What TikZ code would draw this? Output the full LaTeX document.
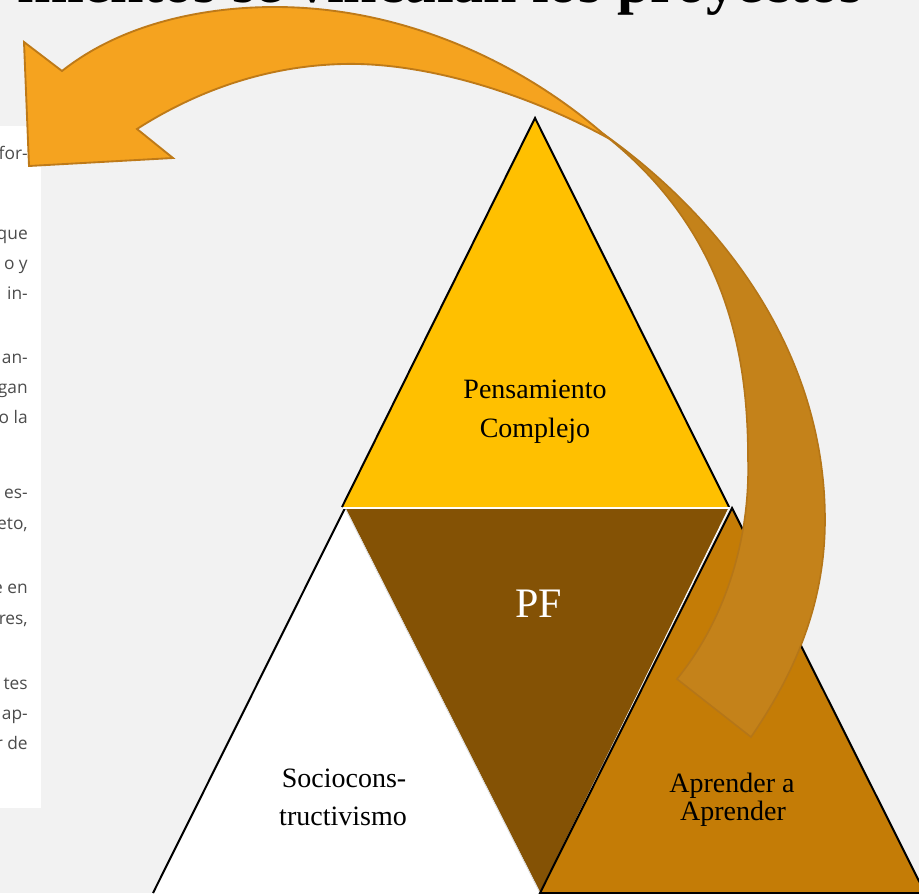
\documentclass[tikz,border=0pt]{standalone}
\usepackage{fontspec}
\setmainfont{Liberation Serif}
\newfontfamily\osans{Open Sans}
\definecolor{bgc}{HTML}{F2F2F2}
\definecolor{yellowc}{HTML}{FFC000}
\definecolor{brownc}{HTML}{845205}
\definecolor{aprc}{HTML}{C47C06}
\definecolor{arrlight}{HTML}{F5A31F}
\definecolor{arrlightdraw}{HTML}{BE7A18}
\definecolor{arrdark}{HTML}{C4821A}
\definecolor{arrdarkdraw}{HTML}{B57618}
\definecolor{bodytxt}{HTML}{4C4C4C}
\begin{document}
\begin{tikzpicture}[x=0.75pt,y=-0.75pt,
  triedge/.style={draw=black,line width=1.5pt,line join=miter},
  lbl/.style={inner sep=0pt,font=\fontsize{21}{25}\selectfont,text=black},
  pflbl/.style={inner sep=0pt,font=\fontsize{31.5}{36}\selectfont,text=white},
  frag/.style={inner sep=0pt,anchor=base east,font=\osans\fontsize{13}{15}\selectfont,text=bodytxt},
  arrfront/.style={fill=arrlight,draw=arrlightdraw,line width=1.4pt,line join=miter},
  arrback/.style={fill=arrdark,draw=arrdarkdraw,line width=1.2pt,line join=miter}]
\useasboundingbox (0,0) rectangle (919,893);
\fill[bgc] (0,0) rectangle (919,893);

% title (mostly outside the picture)
\node[inner sep=0pt,anchor=base east,font=\bfseries\fontsize{45}{54}\selectfont] (title) at (863,2) {mientos se vinculan los proyectos};

% page fragment on the left
\fill[white] (0,126) rectangle (41,808);
\node[frag] (f1) at (28,159) {for-};
\node[frag] (f2) at (28,239) {que};
\node[frag] (f3) at (28,269) {o y};
\node[frag] (f4) at (28,299) {in-};
\node[frag] (f5) at (28,363) {an-};
\node[frag] (f6) at (28,393) {gan};
\node[frag] (f7) at (28,423) {o la};
\node[frag] (f8) at (28,498) {es-};
\node[frag] (f9) at (28,529) {eto,};
\node[frag] (f10) at (28,593) {e en};
\node[frag] (f11) at (28,624) {res,};
\node[frag] (f12) at (28,689) {tes};
\node[frag] (f13) at (28,719) {ap-};
\node[frag] (f14) at (28,749) {r de};

% triangles
\fill[yellowc] (535,118) -- (342,507) -- (729,507) -- cycle;
\draw[triedge] (342,507) -- (535,118) -- (729,507);
\filldraw[fill=brownc,draw=white,line width=0.6pt] (345,508) -- (729,508) -- (540,893) -- cycle;
\fill[white] (345,508) -- (153,893) -- (540,893) -- cycle;
\draw[black!15,line width=0.6pt] (345,508) -- (540,893);
\draw[triedge] (345,508) -- (153,893);
\filldraw[triedge,fill=aprc] (732,508) -- (540,893) -- (925,893) -- cycle;
\draw[white,line width=1.5pt] (343,507.5) -- (729,507.5);

% labels
\node[lbl,anchor=base] (pc1) at (535,398) {Pensamiento};
\node[lbl,anchor=base] (pc2) at (535,437) {Complejo};
\node[pflbl,anchor=base] (pf) at (538.5,617) {PF};
\node[lbl,anchor=base] (sc1) at (344,787) {Sociocons-};
\node[lbl,anchor=base] (sc2) at (343,825) {tructivismo};
\node[lbl,anchor=base] (aa1) at (732,792) {Aprender a};
\node[lbl,anchor=base] (aa2) at (733,820) {Aprender};

% curved arrow: back (dark) part
\filldraw[arrback] (598,130) .. controls (720,215) and (825,350) .. (825,520)
  .. controls (825,610) and (790,680) .. (751,737)
  -- (677,679)
  .. controls (725,620) and (750,540) .. (748,460)
  .. controls (748,360) and (730,230) .. cycle;

% curved arrow: front (light) part with head
\filldraw[arrfront] (24,42) -- (62,71)
  .. controls (120,25) and (200,7) .. (275,7)
  .. controls (400,7) and (520,60) .. (608,138)
  .. controls (520,90) and (420,62) .. (343,64)
  .. controls (260,66) and (190,95) .. (137,129)
  -- (173,158) -- (29,166) -- cycle;
\end{tikzpicture}
\end{document}
